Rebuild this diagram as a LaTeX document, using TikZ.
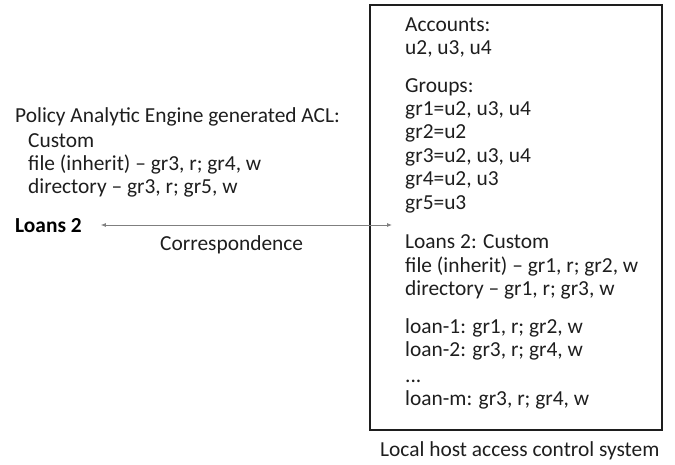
\documentclass[tikz,border=0pt]{standalone}
\usepackage{fontspec}
\setmainfont{Carlito}
\usetikzlibrary{arrows.meta}
\definecolor{ink}{HTML}{1E1E1E}
\definecolor{linkgray}{HTML}{7F7F7F}
\tikzset{
  line/.style={anchor=base west, inner sep=0pt, text=ink,
    font=\fontsize{21.4}{25}\selectfont},
  heading/.style={line, font=\fontsize{21.4}{25}\selectfont\bfseries, text=black},
  frame/.style={draw=ink, line width=1.1pt},
  link/.style={draw=linkgray, line width=0.8pt,
    {Latex[length=5pt,width=4pt]}-{Latex[length=5pt,width=4pt]}}
}
\begin{document}
\begin{tikzpicture}[x=1pt,y=-1pt]
\useasboundingbox (0,0) rectangle (675,464);

% local host box
\draw[frame] (370,5) rectangle (662,430);
\coordinate (boxin) at (392,225);

\node[line] (acc)  at (405,31)  {Accounts:};
\node[line] (accl) at (405,54)  {u2, u3, u4};
\node[line] (grp)  at (405,92)  {Groups:};
\node[line] (g1)   at (405,115) {gr1=u2, u3, u4};
\node[line] (g2)   at (405,138.5) {gr2=u2};
\node[line] (g3)   at (405,162) {gr3=u2, u3, u4};
\node[line] (g4)   at (405,185.5) {gr4=u2, u3};
\node[line] (g5)   at (405,209) {gr5=u3};
\node[line] (lc)   at (405,248) {Loans 2: Custom};
\node[line] (lf)   at (405,272) {file (inherit) -- gr1, r; gr2, w};
\node[line] (ld)   at (405,295) {directory -- gr1, r; gr3, w};
\node[line] (l1)   at (405,333) {loan-1: gr1, r; gr2, w};
\node[line] (l2)   at (405,356) {loan-2: gr3, r; gr4, w};
\node[line] (ldot) at (405,382) {...};
\node[line] (lm)   at (405,405) {loan-m: gr3, r; gr4, w};

\node[line] (cap)  at (380,456) {Local host access control system};

% engine-generated ACL
\node[line] (pae)  at (15,122) {Policy Analytic Engine generated ACL:};
\node[line] (pc)   at (28,147) {Custom};
\node[line] (pf)   at (28,170) {file (inherit) -- gr3, r; gr4, w};
\node[line] (pd)   at (28,193) {directory -- gr3, r; gr5, w};

\node[heading] (loans) at (15,232) {Loans 2};
\node[line] (corr) at (160,250) {Correspondence};

\draw[link] ([xshift=19pt]loans.east |- boxin) -- (boxin);
\end{tikzpicture}
\end{document}
